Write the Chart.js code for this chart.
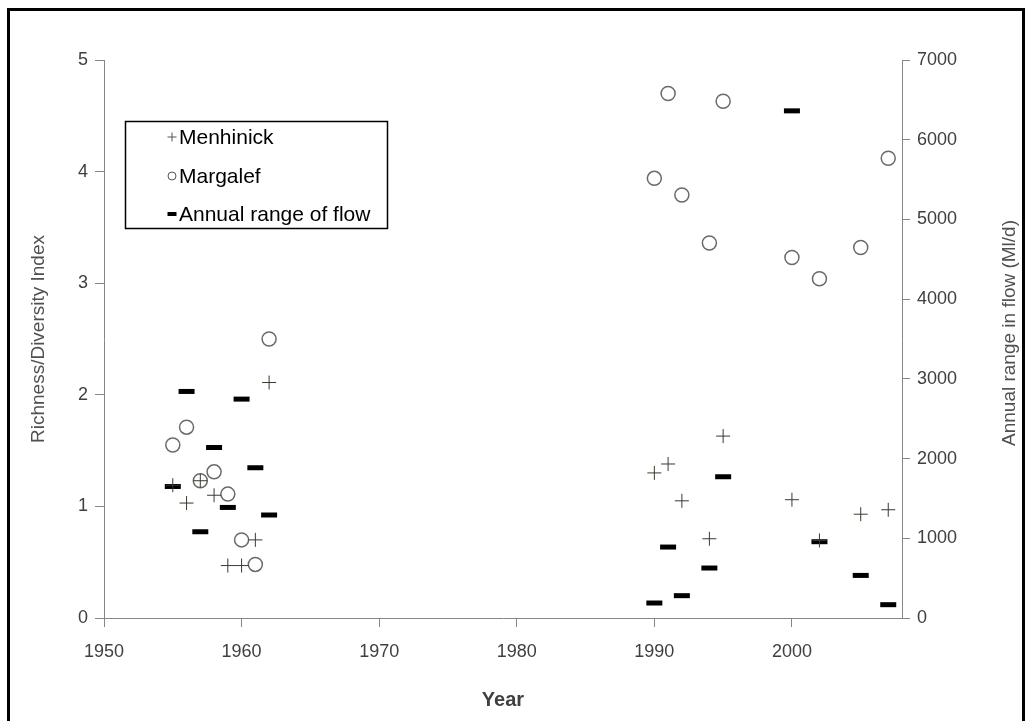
<!DOCTYPE html>
<html><head><meta charset="utf-8">
<script src="https://cdn.jsdelivr.net/npm/chart.js@4.4.1/dist/chart.umd.min.js"></script>
<style>
html,body{margin:0;padding:0;background:#fff;}
#wrap{position:relative;width:1030px;height:721px;overflow:hidden;background:#fff;}
#frame{position:absolute;left:7px;top:8px;width:1018px;height:740px;border:3px solid #000;box-sizing:border-box;pointer-events:none;}
canvas{position:absolute;left:0;top:0;}
</style></head><body>
<div id="wrap"><canvas id="c" width="1030" height="721"></canvas><div id="frame"></div></div>
<script>
// ---- data ----
const years      = [1955,1956,1957,1958,1959,1960,1961,1962,1990,1991,1992,1994,1995,2000,2002,2005,2007];
const menhinick  = [1.19,1.03,1.23,1.10,0.47,0.47,0.70,2.11,1.30,1.38,1.05,0.71,1.63,1.06,0.695,0.93,0.97];
const margalef   = [1.55,1.71,1.23,1.31,1.11,0.70,0.48,2.50,3.94,4.70,3.79,3.36,4.63,3.23,3.04,3.32,4.12];
const flowRange  = [1650,2842,1082,2139,1387,2746,1885,1292,188,890,280,627,1772,6362,957,534,167];
const seriesNames = ['Menhinick','Margalef','Annual range of flow'];
const xRange = [1950, 2008]; const xStep = 10;
const yLeftRange = [0, 5]; const yLeftStep = 1;
const yRightRange = [0, 7000]; const yRightStep = 1000;
const xTitle = 'Year';
const yLeftTitle = 'Richness/Diversity Index';
const yRightTitle = 'Annual range in flow (Ml/d)';

const toPts = (ys) => years.map((x, i) => ({x: x, y: ys[i]}));

const FONT = '"Liberation Sans", Arial, sans-serif';
const labelColor = '#404040';
const titleColor = '#505050';
const axisColor = '#868686';

const customDraw = {
  id: 'customDraw',
  afterDraw(chart) {
    const ctx = chart.ctx;
    // right axis title (reads bottom-to-top)
    const s2 = chart.scales.y2;
    ctx.save();
    ctx.translate(s2.right - 20, 333);
    ctx.rotate(-Math.PI / 2);
    ctx.font = '19px ' + FONT;
    ctx.fillStyle = titleColor;
    ctx.textAlign = 'center';
    ctx.textBaseline = 'middle';
    ctx.fillText(yRightTitle, 0, 0);
    ctx.restore();

    // legend box
    ctx.save();
    ctx.strokeStyle = '#000';
    ctx.lineWidth = 1.5;
    ctx.strokeRect(125.5, 121.5, 262, 107);
    const rows = [137, 176, 214];
    const mx = 172, tx = 179;
    chart.data.datasets.forEach((ds, i) => {
      const y = rows[i];
      ctx.strokeStyle = ds.legendColor;
      ctx.fillStyle = 'rgba(0,0,0,0)';
      ctx.lineWidth = ds.legendBorder;
      Chart.helpers.drawPoint(ctx, {pointStyle: ds.pointStyle, radius: ds.legendRadius, borderWidth: ds.legendBorder, rotation: 0}, mx, y);
      ctx.fillStyle = '#000';
      ctx.font = '21px ' + FONT;
      ctx.textAlign = 'left';
      ctx.textBaseline = 'middle';
      ctx.fillText(ds.label, tx, y + 1);
    });
    ctx.restore();
  }
};

new Chart(document.getElementById('c'), {
  type: 'scatter',
  data: {
    datasets: [
      {label: seriesNames[0], data: toPts(menhinick), yAxisID: 'y', pointStyle: 'cross', pointRadius: 7, pointBorderWidth: 1,
       borderColor: '#3a3a30', backgroundColor: 'rgba(0,0,0,0)', legendColor: '#555', legendRadius: 4.5, legendBorder: 1},
      {label: seriesNames[1], data: toPts(margalef), yAxisID: 'y', pointStyle: 'circle', pointRadius: 7, pointBorderWidth: 1.5,
       borderColor: '#6a6a6a', backgroundColor: 'rgba(0,0,0,0)', legendColor: '#555', legendRadius: 4, legendBorder: 1},
      {label: seriesNames[2], data: toPts(flowRange), yAxisID: 'y2', pointStyle: 'line', pointRadius: 8, pointBorderWidth: 5,
       borderColor: '#000', backgroundColor: '#000', legendColor: '#000', legendRadius: 4.5, legendBorder: 4}
    ]
  },
  options: {
    responsive: false,
    maintainAspectRatio: false,
    animation: false,
    devicePixelRatio: 1,
    layout: {padding: {top: 60, left: 0, right: 0, bottom: 0}},
    plugins: {legend: {display: false}, tooltip: {enabled: false}},
    elements: {point: {hoverRadius: 7}},
    scales: {
      x: {
        type: 'linear', position: 'bottom', bounds: 'data',
        min: xRange[0], max: xRange[1],
        ticks: {stepSize: xStep, includeBounds: false, color: labelColor, font: {family: FONT, size: 18}, padding: 14,
                callback: (v) => String(v)},
        afterBuildTicks: (s) => { s.ticks = s.ticks.filter(t => (t.value - xRange[0]) % xStep === 0); },
        grid: {drawOnChartArea: false, drawTicks: true, tickLength: 9, color: axisColor},
        border: {display: true, color: axisColor, width: 1},
        title: {display: true, text: xTitle, color: labelColor, font: {family: FONT, size: 20, weight: 'bold'}, padding: {top: 0, bottom: 9}},
        afterFit: (s) => { s.height = 103; }
      },
      y: {
        type: 'linear', position: 'left',
        min: yLeftRange[0], max: yLeftRange[1],
        ticks: {stepSize: yLeftStep, color: labelColor, font: {family: FONT, size: 18}, padding: 7},
        grid: {drawOnChartArea: false, drawTicks: true, tickLength: 9, color: axisColor},
        border: {display: true, color: axisColor, width: 1},
        title: {display: true, text: yLeftTitle, color: titleColor, font: {family: FONT, size: 19}, padding: {top: 27, bottom: 0}},
        afterFit: (s) => { s.width = 104; }
      },
      y2: {
        type: 'linear', position: 'right',
        min: yRightRange[0], max: yRightRange[1],
        ticks: {stepSize: yRightStep, color: labelColor, font: {family: FONT, size: 18}, padding: 7,
                callback: (v) => String(v)},
        grid: {drawOnChartArea: false, drawTicks: true, tickLength: 8, color: axisColor},
        border: {display: true, color: axisColor, width: 1},
        afterFit: (s) => { s.width = 128; }
      }
    }
  },
  plugins: [customDraw]
});
</script>
</body></html>
